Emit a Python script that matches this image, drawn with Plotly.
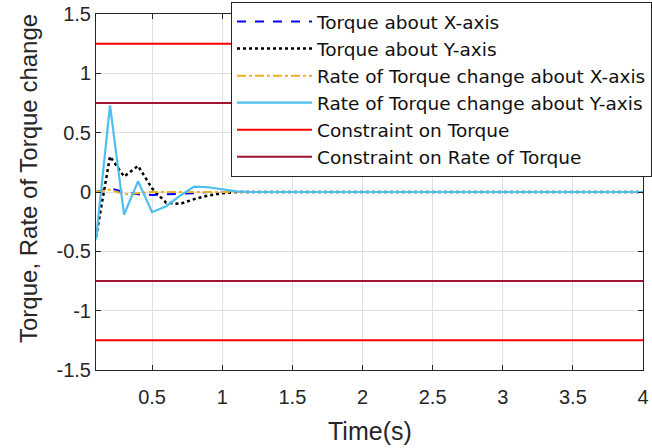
import plotly.graph_objects as go

# Time axis (s)
time = [round(0.1 * i, 1) for i in range(1, 41)]

torque_x = [0.0, 0.03, 0.0, -0.02, -0.025, -0.02, -0.02, -0.01, 0.0, 0.0,
            0.0, 0.0, 0.0, 0.0, 0.0, 0.0, 0.0, 0.0, 0.0, 0.0,
            0.0, 0.0, 0.0, 0.0, 0.0, 0.0, 0.0, 0.0, 0.0, 0.0,
            0.0, 0.0, 0.0, 0.0, 0.0, 0.0, 0.0, 0.0, 0.0, 0.0]
torque_y = [-0.38, 0.30, 0.13, 0.22, 0.03, -0.09, -0.10, -0.06, -0.03, -0.01,
            0.0, 0.0, 0.0, 0.0, 0.0, 0.0, 0.0, 0.0, 0.0, 0.0,
            0.0, 0.0, 0.0, 0.0, 0.0, 0.0, 0.0, 0.0, 0.0, 0.0,
            0.0, 0.0, 0.0, 0.0, 0.0, 0.0, 0.0, 0.0, 0.0, 0.0]
rate_x = [0.0, 0.02, -0.02, -0.01, 0.0, 0.0, 0.0, 0.005, 0.0, 0.0,
          0.0, 0.0, 0.0, 0.0, 0.0, 0.0, 0.0, 0.0, 0.0, 0.0,
          0.0, 0.0, 0.0, 0.0, 0.0, 0.0, 0.0, 0.0, 0.0, 0.0,
          0.0, 0.0, 0.0, 0.0, 0.0, 0.0, 0.0, 0.0, 0.0, 0.0]
rate_y = [-0.40, 0.73, -0.19, 0.09, -0.17, -0.12, -0.03, 0.045, 0.04, 0.02,
          0.005, 0.0, 0.0, 0.0, 0.0, 0.0, 0.0, 0.0, 0.0, 0.0,
          0.0, 0.0, 0.0, 0.0, 0.0, 0.0, 0.0, 0.0, 0.0, 0.0,
          0.0, 0.0, 0.0, 0.0, 0.0, 0.0, 0.0, 0.0, 0.0, 0.0]

torque_limit = 1.25
rate_limit = 0.75
x_span = [0.1, 4.0]

x_ticks = [0.5, 1, 1.5, 2, 2.5, 3, 3.5, 4]
x_tick_labels = ["0.5", "1", "1.5", "2", "2.5", "3", "3.5", "4"]
y_ticks = [-1.5, -1, -0.5, 0, 0.5, 1, 1.5]
y_tick_labels = ["-1.5", "-1", "-0.5", "0", "0.5", "1", "1.5"]
x_title = "Time(s)"
y_title = "Torque, Rate of Torque change"

FONT = "Liberation Sans, Arial, Helvetica, sans-serif"
LEG_FONT = "DejaVu Sans, Liberation Sans, sans-serif"
AX = "#262626"

fig = go.Figure()
fig.add_trace(go.Scatter(x=time, y=torque_x, mode="lines", name="Torque about X-axis",
                         line=dict(color="#0000FF", width=2, dash="dash")))
fig.add_trace(go.Scatter(x=time, y=torque_y, mode="lines", name="Torque about Y-axis",
                         line=dict(color="#000000", width=2.5, dash="dot")))
fig.add_trace(go.Scatter(x=time, y=rate_x, mode="lines", name="Rate of Torque change about X-axis",
                         line=dict(color="#EDB120", width=2, dash="dashdot")))
fig.add_trace(go.Scatter(x=time, y=rate_y, mode="lines", name="Rate of Torque change about Y-axis",
                         line=dict(color="#4DBEEE", width=2.2)))
fig.add_trace(go.Scatter(x=[x_span[0], x_span[1], None, x_span[0], x_span[1]],
                         y=[torque_limit, torque_limit, None, -torque_limit, -torque_limit],
                         mode="lines", name="Constraint on Torque",
                         line=dict(color="#FF0000", width=2)))
fig.add_trace(go.Scatter(x=[x_span[0], x_span[1], None, x_span[0], x_span[1]],
                         y=[rate_limit, rate_limit, None, -rate_limit, -rate_limit],
                         mode="lines", name="Constraint on Rate of Torque",
                         line=dict(color="#A2142F", width=2)))

fig.update_layout(
    width=652, height=448,
    margin=dict(l=96, r=9, t=14, b=78, autoexpand=False),
    paper_bgcolor="white", plot_bgcolor="white",
    font=dict(family=FONT, size=20, color=AX),
    legend=dict(x=(231 - 96) / 547, y=(370 - 2) / 356, xanchor="left", yanchor="top",
                bgcolor="white", bordercolor=AX, borderwidth=1,
                font=dict(family=LEG_FONT, size=18.5, color="#111111"),
                itemwidth=75, tracegroupgap=0),
    xaxis=dict(range=x_span, tickvals=x_ticks, ticktext=x_tick_labels,
               showgrid=True, gridcolor="#E0E0E0", gridwidth=1,
               zeroline=False, showline=True, linecolor=AX, linewidth=1, mirror="allticks",
               ticks="inside", ticklen=5, tickcolor=AX, ticklabelstandoff=9,
               tickfont=dict(size=20, color=AX)),
    yaxis=dict(range=[-1.5, 1.5], tickvals=y_ticks, ticktext=y_tick_labels,
               showgrid=True, gridcolor="#E0E0E0", gridwidth=1,
               zeroline=False, showline=True, linecolor=AX, linewidth=1, mirror="allticks",
               ticks="inside", ticklen=5, tickcolor=AX,
               tickfont=dict(size=20, color=AX)),
    annotations=[
        dict(text=x_title, xref="paper", yref="paper", x=(370 - 96) / 547, y=(370 - 431) / 356,
             xanchor="center", yanchor="middle", showarrow=False,
             font=dict(family=FONT, size=25, color=AX)),
        dict(text=y_title, xref="paper", yref="paper", x=(28 - 96) / 547, y=(370 - 179) / 356,
             xanchor="center", yanchor="middle", showarrow=False, textangle=-90,
             font=dict(family=FONT, size=24, color=AX)),
    ],
)

fig.write_html("out.html", config={"displayModeBar": False},
               post_script="document.body.style.margin='0';document.body.style.padding='0';")
